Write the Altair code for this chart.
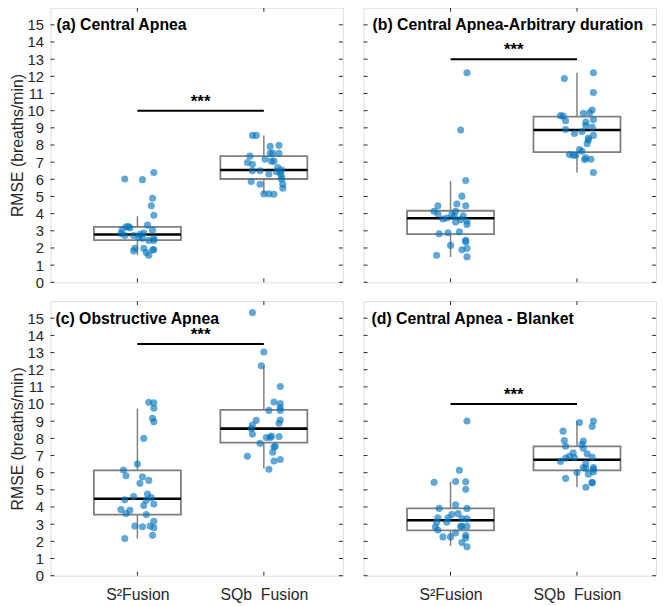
import altair as alt
import pandas as pd

FONT = "Liberation Sans"
GROUP_LABELS = {1: "S²Fusion", 2: "SQb\u00a0\u00a0Fusion"}
Y_TICKS = list(range(0, 16))

# ---- panel (a) Central Apnea ----
A_S2 = [6.02, 5.98, 6.40, 4.90, 4.46, 3.90, 3.33, 3.23, 3.17, 3.08, 2.85, 2.73, 2.73, 2.87, 3.04,
        2.63, 2.56, 2.44, 2.44, 2.55, 1.98, 1.98, 1.89, 1.83, 1.73, 1.58, 2.80, 1.90, 3.25]
A_S2_DX = [-0.10, 0.04, 0.13, 0.12, 0.11, 0.13, 0.08, -0.09, -0.06, -0.12, -0.13, -0.10, -0.03, 0.05, 0.12,
           0.01, 0.04, 0.09, 0.13, 0.13, -0.02, 0.05, 0.12, -0.03, 0.07, 0.09, 0.02, 0.13, -0.07]
A_SQB = [8.56, 8.56, 7.92, 7.98, 7.52, 7.52, 7.52, 7.35, 7.17, 7.06, 7.06, 6.98, 6.88, 6.50, 6.50,
         6.31, 6.68, 6.54, 6.35, 6.16, 6.44, 5.87, 5.71, 5.71, 5.48, 5.15, 5.15, 5.13, 6.00]
A_SQB_DX = [-0.09, -0.06, 0.05, 0.12, 0.05, 0.07, 0.12, -0.11, 0.01, 0.06, 0.08, -0.13, -0.09, -0.09, -0.03,
            0.04, 0.11, 0.14, 0.13, 0.14, 0.10, -0.10, -0.03, 0.15, 0.15, 0.00, 0.04, 0.08, 0.14]
A_BOX_S2 = [1.60, 2.46, 2.79, 3.23, 3.85]   # low whisker, q1, median, q3, high whisker
A_BOX_SQB = [5.15, 6.02, 6.54, 7.35, 8.56]
A_SIG = 10

# ---- panel (b) Central Apnea-Arbitrary duration ----
B_S2 = [12.21, 8.87, 5.93, 5.02, 4.56, 4.46, 4.46, 4.14, 3.98, 3.69, 3.75, 3.94, 4.14, 3.85, 3.88,
        3.52, 3.65, 3.56, 3.37, 2.83, 2.89, 2.94, 2.15, 2.44, 2.37, 1.58, 1.90, 1.98, 1.48]
B_S2_DX = [0.13, 0.08, 0.12, 0.09, 0.05, 0.12, -0.10, -0.13, -0.10, -0.06, -0.03, 0.01, 0.04, 0.03, 0.10,
           0.04, 0.08, 0.13, 0.13, -0.09, -0.02, 0.07, 0.00, 0.12, 0.12, -0.11, 0.09, 0.13, 0.13]
B_SQB = [12.21, 11.87, 11.06, 10.04, 9.87, 9.85, 9.71, 9.68, 9.42, 9.33, 9.48, 9.04, 9.13, 8.90, 8.79,
         8.67, 8.56, 8.41, 8.29, 8.08, 7.73, 7.63, 7.44, 7.40, 7.40, 7.15, 7.25, 7.17, 6.40]
B_SQB_DX = [0.13, -0.10, 0.13, 0.12, 0.10, 0.05, -0.13, -0.11, -0.09, 0.07, 0.13, 0.12, 0.07, -0.09, 0.04,
            -0.02, 0.13, 0.09, 0.09, 0.08, 0.02, 0.04, -0.06, -0.03, -0.01, 0.06, 0.07, 0.11, 0.13]
B_BOX_S2 = [1.48, 2.81, 3.73, 4.17, 5.90]
B_BOX_SQB = [6.40, 7.58, 8.87, 9.65, 12.21]
B_SIG = 13

# ---- panel (c) Obstructive Apnea ----
C_S2 = [10.10, 10.07, 9.76, 9.17, 8.97, 8.00, 6.51, 6.16, 5.82, 5.76, 5.55, 5.38, 4.76, 4.55, 4.40,
        4.61, 4.42, 4.17, 4.09, 3.85, 3.62, 3.81, 3.56, 3.17, 2.89, 2.85, 2.89, 2.80, 2.35, 2.16]
C_S2_DX = [0.09, 0.13, 0.13, 0.12, 0.13, 0.05, 0.00, -0.11, -0.09, 0.04, 0.09, 0.02, 0.08, 0.11, 0.07,
           -0.03, -0.10, 0.13, 0.05, -0.13, -0.09, -0.06, 0.07, 0.13, -0.02, 0.04, 0.10, 0.13, 0.12, -0.10]
C_SQB = [15.33, 13.03, 12.23, 11.02, 10.12, 10.03, 9.78, 9.63, 9.63, 9.07, 8.88, 9.05, 8.78, 8.57, 8.25,
         8.05, 8.13, 8.05, 8.11, 7.71, 7.54, 7.50, 7.19, 6.96, 6.77, 6.68, 6.20]
C_SQB_DX = [-0.09, 0.00, -0.02, 0.13, 0.08, 0.13, 0.13, 0.13, 0.04, 0.13, 0.12, -0.06, -0.09, -0.10, -0.09,
            0.02, 0.06, 0.05, 0.12, -0.03, 0.09, 0.08, 0.07, -0.13, 0.13, 0.08, 0.04]
C_BOX_S2 = [2.16, 3.56, 4.48, 6.14, 9.74]
C_BOX_SQB = [6.24, 7.75, 8.57, 9.66, 12.23]
C_SIG = 13.5

# ---- panel (d) Central Apnea - Blanket ----
D_S2 = [9.01, 6.14, 5.44, 5.49, 5.47, 5.03, 4.13, 3.92, 3.92, 3.62, 3.56, 3.37, 3.37, 3.33, 3.31,
        3.12, 3.12, 2.87, 2.87, 2.87, 2.83, 2.66, 2.49, 2.35, 2.26, 2.26, 1.93, 1.68, 2.20]
D_S2_DX = [0.13, 0.07, -0.13, 0.04, 0.12, 0.12, 0.04, -0.09, 0.13, 0.06, 0.01, -0.02, -0.10, 0.09, 0.13,
           -0.11, -0.03, 0.08, 0.09, 0.13, -0.12, -0.10, 0.04, 0.12, -0.06, 0.00, 0.09, 0.13, 0.12]
D_SQB = [8.92, 9.01, 8.69, 8.42, 7.88, 7.54, 7.85, 7.65, 7.42, 7.16, 7.10, 6.96, 6.87, 6.85, 6.66,
         6.91, 6.53, 6.30, 6.25, 6.30, 6.20, 6.01, 5.91, 6.04, 5.67, 5.44, 5.40, 5.15]
D_SQB_DX = [0.02, 0.13, 0.12, -0.11, -0.10, -0.09, 0.05, 0.04, 0.05, -0.03, 0.08, -0.06, -0.02, -0.09, -0.13,
            0.12, 0.07, 0.05, 0.07, 0.13, 0.13, 0.00, 0.09, 0.13, -0.09, 0.12, 0.12, 0.07]
D_BOX_S2 = [1.74, 2.64, 3.23, 3.92, 5.47]
D_BOX_SQB = [5.15, 6.14, 6.76, 7.54, 9.01]
D_SIG = 10

TITLES = ["(a) Central Apnea", "(b) Central Apnea-Arbitrary duration",
          "(c) Obstructive Apnea", "(d) Central Apnea - Blanket"]

W, H = 296, 278
BOX_HALF = 0.344
TICK_LEN = 4
AX_COLOR = "#262626"
PT_COLOR = "#0072BD"
BOX_COLOR = "#7f7f7f"

XSCALE = alt.Scale(domain=[0.3125, 2.625], nice=False, zero=False)
YSCALE = alt.Scale(domain=[0, 16], nice=False, zero=False)


def panel(title, s2, s2dx, sqb, sqbdx, box_s2, box_sqb, sig, show_y, show_x, title_x):
    xaxis = alt.Axis(values=[1, 2], labels=show_x, ticks=False, domain=False, grid=False, title=None,
                     labelExpr="datum.value == 1 ? '%s' : '%s'" % (GROUP_LABELS[1], GROUP_LABELS[2]),
                     labelFontSize=16, labelPadding=11, labelColor=AX_COLOR, labelFont=FONT)
    yaxis = alt.Axis(values=Y_TICKS, labels=show_y, ticks=False, tickSize=0, domain=False, grid=False,
                     title="RMSE (breaths/min)" if show_y else None,
                     labelFontSize=15, labelPadding=7, labelColor=AX_COLOR, labelFont=FONT,
                     titleFontSize=16, titleFontWeight="normal", titleFont=FONT, titleColor=AX_COLOR,
                     titlePadding=2)

    pts = pd.DataFrame({
        "g": [1] * len(s2) + [2] * len(sqb),
        "dx": list(s2dx) + list(sqbdx),
        "v": list(s2) + list(sqb),
    })
    box = pd.DataFrame({
        "g": [1, 2],
        "lo": [box_s2[0], box_sqb[0]],
        "q1": [box_s2[1], box_sqb[1]],
        "med": [box_s2[2], box_sqb[2]],
        "q3": [box_s2[3], box_sqb[3]],
        "hi": [box_s2[4], box_sqb[4]],
    })
    sigdf = pd.DataFrame({"x1": [1], "x2": [2], "xm": [1.5], "v": [sig], "s": ["***"]})
    ticks_y = pd.DataFrame({"v": Y_TICKS})
    ticks_x = pd.DataFrame({"g": [1, 2]})
    tdf = pd.DataFrame({"t": [title]})

    X = lambda f: alt.X(f, type="quantitative", scale=XSCALE, axis=xaxis)
    Y = lambda f: alt.Y(f, type="quantitative", scale=YSCALE, axis=yaxis)

    base_box = alt.Chart(box).transform_calculate(bx1="datum.g - %f" % BOX_HALF, bx2="datum.g + %f" % BOX_HALF)

    rect = base_box.mark_rect(fill="white", fillOpacity=0, stroke=BOX_COLOR, strokeWidth=1.8).encode(
        x=X("bx1"), x2="bx2", y=Y("q1"), y2="q3")
    wlo = alt.Chart(box).mark_rule(color=BOX_COLOR, strokeWidth=1.5).encode(x=X("g"), y=Y("lo"), y2="q1")
    whi = alt.Chart(box).mark_rule(color=BOX_COLOR, strokeWidth=1.5).encode(x=X("g"), y=Y("q3"), y2="hi")
    med = base_box.mark_rule(color="black", strokeWidth=2.6).encode(x=X("bx1"), x2="bx2", y=Y("med"))

    points = alt.Chart(pts).transform_calculate(xp="datum.g + datum.dx").mark_circle(
        size=52, color=PT_COLOR, opacity=0.62, strokeWidth=0).encode(x=X("xp"), y=Y("v"))

    sig_line = alt.Chart(sigdf).mark_rule(color="black", strokeWidth=2).encode(
        x=X("x1"), x2="x2", y=Y("v"))
    sig_text = alt.Chart(sigdf).mark_text(baseline="bottom", dy=0, fontSize=17, fontWeight="bold",
                                          font=FONT, color="black").encode(
        x=X("xm"), y=Y("v"), text="s:N")

    tl = alt.Chart(ticks_y).mark_rule(color=AX_COLOR, strokeWidth=1).encode(
        x=alt.value(0), x2=alt.value(TICK_LEN), y=Y("v"))
    tr = alt.Chart(ticks_y).mark_rule(color=AX_COLOR, strokeWidth=1).encode(
        x=alt.value(W - TICK_LEN), x2=alt.value(W), y=Y("v"))
    tt = alt.Chart(ticks_x).mark_rule(color=AX_COLOR, strokeWidth=1).encode(
        x=X("g"), y=alt.value(0), y2=alt.value(TICK_LEN))
    tb = alt.Chart(ticks_x).mark_rule(color=AX_COLOR, strokeWidth=1).encode(
        x=X("g"), y=alt.value(H - TICK_LEN), y2=alt.value(H))

    ttl = alt.Chart(tdf).mark_text(align="left", baseline="middle", fontSize=16, fontWeight="bold",
                                   font=FONT, color="black").encode(
        x=alt.value(title_x), y=alt.value(18), text="t:N")

    return alt.layer(rect, wlo, whi, med, points, sig_line, sig_text, tl, tr, tt, tb, ttl).properties(
        width=W, height=H)


pa = panel(TITLES[0], A_S2, A_S2_DX, A_SQB, A_SQB_DX, A_BOX_S2, A_BOX_SQB, A_SIG, True, False, 6)
pb = panel(TITLES[1], B_S2, B_S2_DX, B_SQB, B_SQB_DX, B_BOX_S2, B_BOX_SQB, B_SIG, False, False, 9)
pc = panel(TITLES[2], C_S2, C_S2_DX, C_SQB, C_SQB_DX, C_BOX_S2, C_BOX_SQB, C_SIG, True, True, 5)
pd_ = panel(TITLES[3], D_S2, D_S2_DX, D_SQB, D_SQB_DX, D_BOX_S2, D_BOX_SQB, D_SIG, False, True, 8)

chart = alt.vconcat(
    alt.hconcat(pa, pb, spacing=19),
    alt.hconcat(pc, pd_, spacing=19),
    spacing=9,
).properties(
    padding={"left": 0, "top": -5, "right": 0, "bottom": 0}
).configure_view(
    stroke=AX_COLOR, strokeWidth=1.2
).configure(
    font=FONT, background="white"
)

chart.save("out.html", embed_options={"renderer": "svg", "actions": False})
